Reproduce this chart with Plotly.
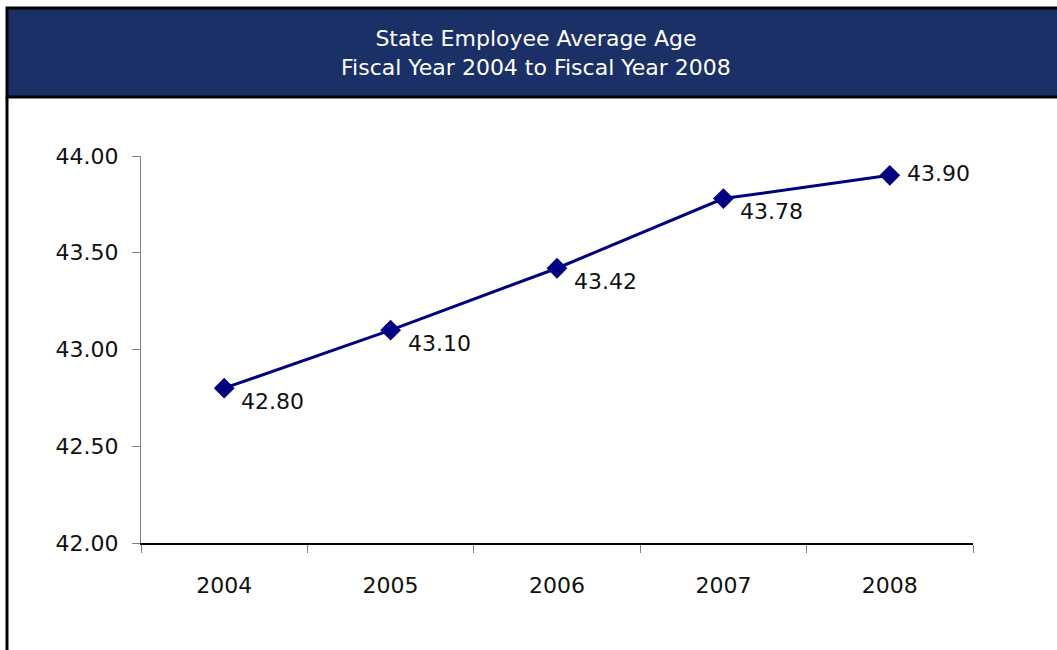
import plotly.graph_objects as go

years = ["2004", "2005", "2006", "2007", "2008"]
avg_age = [42.80, 43.10, 43.42, 43.78, 43.90]
label_side = ["below-right", "below-right", "below-right", "below-right", "right"]
y_ticks = [42.0, 42.5, 43.0, 43.5, 44.0]

W, H = 1057, 650

def px_x(v):
    return v / W

def px_y(v):
    return (H - v) / H

SHIFTS = {"below-right": (15, -13), "right": (15, 2)}

fig = go.Figure()
fig.add_trace(go.Scatter(
    x=years, y=avg_age,
    mode="lines+markers",
    line=dict(color="#000080", width=3),
    marker=dict(symbol="diamond", size=16, color="#000080"),
    cliponaxis=False,
    hoverinfo="x+y",
))

font_main = "DejaVu Sans"

annotations = [
    dict(text="State Employee Average Age<br>Fiscal Year 2004 to Fiscal Year 2008",
         xref="paper", yref="paper", x=px_x(536), y=px_y(52.5),
         xanchor="center", yanchor="middle", showarrow=False,
         font=dict(family="DejaVu Sans", size=22, color="white")),
]
for i, (v, side) in enumerate(zip(avg_age, label_side)):
    dx, dy = SHIFTS[side]
    annotations.append(dict(
        x=i, y=v, xref="x", yref="y", text=f"{v:.2f}",
        showarrow=False, xanchor="left", yanchor="middle",
        xshift=dx, yshift=dy,
        font=dict(family=font_main, size=22, color="#111111"),
    ))

fig.update_layout(
    template="none",
    width=W, height=H,
    autosize=False,
    margin=dict(l=0, r=0, t=0, b=0, pad=0, autoexpand=False),
    paper_bgcolor="white", plot_bgcolor="white",
    showlegend=False,
    xaxis=dict(
        domain=[px_x(141), px_x(973)],
        type="category",
        range=[-0.5, 4.5],
        tickson="boundaries",
        ticks="outside", ticklen=8, tickcolor="#808080", tickwidth=1,
        ticklabelstandoff=22,
        showline=True, linecolor="black", linewidth=1.5,
        showgrid=False, zeroline=False, automargin=False,
        tickfont=dict(family=font_main, size=22, color="#111111"),
        fixedrange=True,
    ),
    yaxis=dict(
        domain=[px_y(543), px_y(156)],
        range=[42, 44],
        tickvals=y_ticks,
        tickformat=".2f",
        ticks="outside", ticklen=8, tickcolor="#808080", tickwidth=1,
        ticklabelstandoff=9,
        showline=True, linecolor="#808080", linewidth=1,
        showgrid=False, zeroline=False, automargin=False,
        tickfont=dict(family=font_main, size=22, color="#111111"),
        fixedrange=True,
    ),
    shapes=[
        dict(type="rect", xref="paper", yref="paper",
             x0=px_x(7), x1=px_x(1062), y0=px_y(97), y1=px_y(8),
             fillcolor="#1B3066", line=dict(color="black", width=3), layer="below"),
        dict(type="line", xref="paper", yref="paper",
             x0=px_x(7), x1=px_x(7), y0=px_y(97), y1=px_y(655),
             line=dict(color="black", width=3)),
    ],
    annotations=annotations,
)

post = (
    "document.documentElement.style.margin='0';"
    "document.body.style.margin='0';"
    "document.body.style.overflow='hidden';"
)
fig.write_html("out.html", config={"displayModeBar": False}, post_script=post)
